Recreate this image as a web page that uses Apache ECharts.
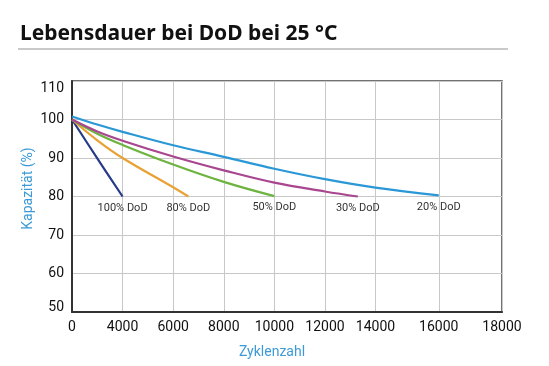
<!DOCTYPE html>
<html>
<head>
<meta charset="utf-8">
<script src="https://cdn.jsdelivr.net/npm/echarts@6/dist/echarts.min.js"></script>
<style>html,body{margin:0;padding:0;background:#fff}#c{width:549px;height:366px}</style>
</head>
<body>
<div id="c"></div>
<script>
// ---- data ----
const titleText = 'Lebensdauer bei DoD bei 25 °C';
const xName = 'Zyklenzahl';
const yName = 'Kapazität (%)';
const xTickCycles = [0, 4000, 6000, 8000, 10000, 12000, 14000, 16000, 18000];
const yTicks = [50, 60, 70, 80, 90, 100, 110];
const seriesNames = ['100% DoD', '80% DoD', '50% DoD', '30% DoD', '20% DoD'];
const dod100 = [[0, 100], [2000, 89.9], [4000, 80]];
const dod80 = [[0, 100], [2000, 94.6], [4000, 90.0], [6000, 82.4], [6600, 80]];
const dod50 = [[0, 100], [2000, 96.3], [4000, 93.4], [6000, 88.3], [8000, 83.8], [10000, 80.1]];
const dod30 = [[0, 100], [2000, 96.9], [4000, 94.5], [6000, 90.4], [8000, 86.8], [10000, 83.6], [12000, 81.3], [13300, 80]];
const dod20 = [[0, 100.8], [2000, 98.7], [4000, 96.8], [6000, 93.3], [8000, 90.3], [10000, 87.2], [12000, 84.5], [14000, 82.3], [16000, 80.3]];

// ---- non-uniform x scale of the original (gridline slots) ----
const xTickSlots = [0, 1, 2, 3, 4, 5, 6, 7.25, 8.5];
function toSlot(c) {
  for (let i = 0; i < xTickCycles.length - 1; i++) {
    if (c <= xTickCycles[i + 1]) {
      const t = (c - xTickCycles[i]) / (xTickCycles[i + 1] - xTickCycles[i]);
      return xTickSlots[i] + t * (xTickSlots[i + 1] - xTickSlots[i]);
    }
  }
  return xTickSlots[xTickSlots.length - 1];
}
function slotLabel(v) {
  for (let i = 0; i < xTickSlots.length; i++) {
    if (Math.abs(xTickSlots[i] - v) < 1e-6) return String(xTickCycles[i]);
  }
  return '';
}

const colors = ['#263a8a', '#e8a133', '#6cb33f', '#a8468f', '#2a97d6'];
const allData = [dod100, dod80, dod50, dod30, dod20];

const series = allData.map((d, k) => ({
  name: seriesNames[k],
  type: 'line',
  smooth: 0.4,
  showSymbol: true,
  symbol: 'circle',
  symbolSize: 0.01,
  lineStyle: { width: 2.2, color: colors[k] },
  itemStyle: { color: colors[k] },
  z: 3,
  data: d.map((p, i) => {
    const item = { value: [toSlot(p[0]), p[1]] };
    if (i === d.length - 1) {
      item.label = {
        show: true, position: 'bottom', distance: 6,
        formatter: seriesNames[k],
        color: '#333', fontSize: 11, fontFamily: 'Roboto'
      };
    }
    return item;
  })
}));

const lblStyle = { color: '#111', fontSize: 14, fontFamily: 'Roboto' };
function yLabel(v) {
  if (v === yTicks[yTicks.length - 1]) return '{t|' + v + '}';
  if (v === yTicks[0]) return '{b|' + v + '}';
  return String(v);
}

const chart = echarts.init(document.getElementById('c'), null, { renderer: 'canvas' });
chart.setOption({
  animation: false,
  backgroundColor: '#fff',
  title: {
    text: titleText, left: 15, top: 19,
    textStyle: { fontFamily: 'Noto Sans', fontWeight: 'bold', fontSize: 21, color: '#111' }
  },
  graphic: [{
    type: 'line', shape: { x1: 18, y1: 49, x2: 508, y2: 49 },
    style: { stroke: '#c9c9c9', lineWidth: 2 }
  }],
  grid: {
    left: 72, right: 47, top: 81, bottom: 54,
    show: true, borderColor: '#444', borderWidth: 1.5
  },
  xAxis: {
    type: 'value', min: 0, max: xTickSlots[xTickSlots.length - 1],
    name: xName, nameLocation: 'middle', nameGap: 33, nameMoveOverlap: false,
    nameTextStyle: { color: '#3d9ad6', fontSize: 14, fontFamily: 'Roboto', padding: [0, 30, 0, 0] },
    axisLine: { show: true, lineStyle: { color: '#333', width: 2 } },
    axisTick: { show: false, customValues: xTickSlots },
    axisLabel: Object.assign({ customValues: xTickSlots, formatter: slotLabel, margin: 8 }, lblStyle),
    splitLine: { show: true, lineStyle: { color: '#c8c8c8', width: 1 } }
  },
  yAxis: {
    type: 'value', min: yTicks[0], max: yTicks[yTicks.length - 1], interval: 10,
    name: yName, nameLocation: 'middle', nameGap: 37, nameRotate: 90, nameMoveOverlap: false,
    nameTextStyle: { color: '#3d9ad6', fontSize: 14, fontFamily: 'Roboto', padding: [0, 0, 0, 16] },
    axisLine: { show: true, lineStyle: { color: '#333', width: 2 } },
    axisTick: { show: false },
    axisLabel: Object.assign({
      margin: 8, formatter: yLabel,
      rich: {
        t: Object.assign({ padding: [14, 0, 0, 0] }, lblStyle),
        b: Object.assign({ padding: [0, 0, 10, 0] }, lblStyle)
      }
    }, lblStyle),
    splitLine: { show: true, lineStyle: { color: '#c8c8c8', width: 1 } }
  },
  series: series
});
</script>
</body>
</html>
